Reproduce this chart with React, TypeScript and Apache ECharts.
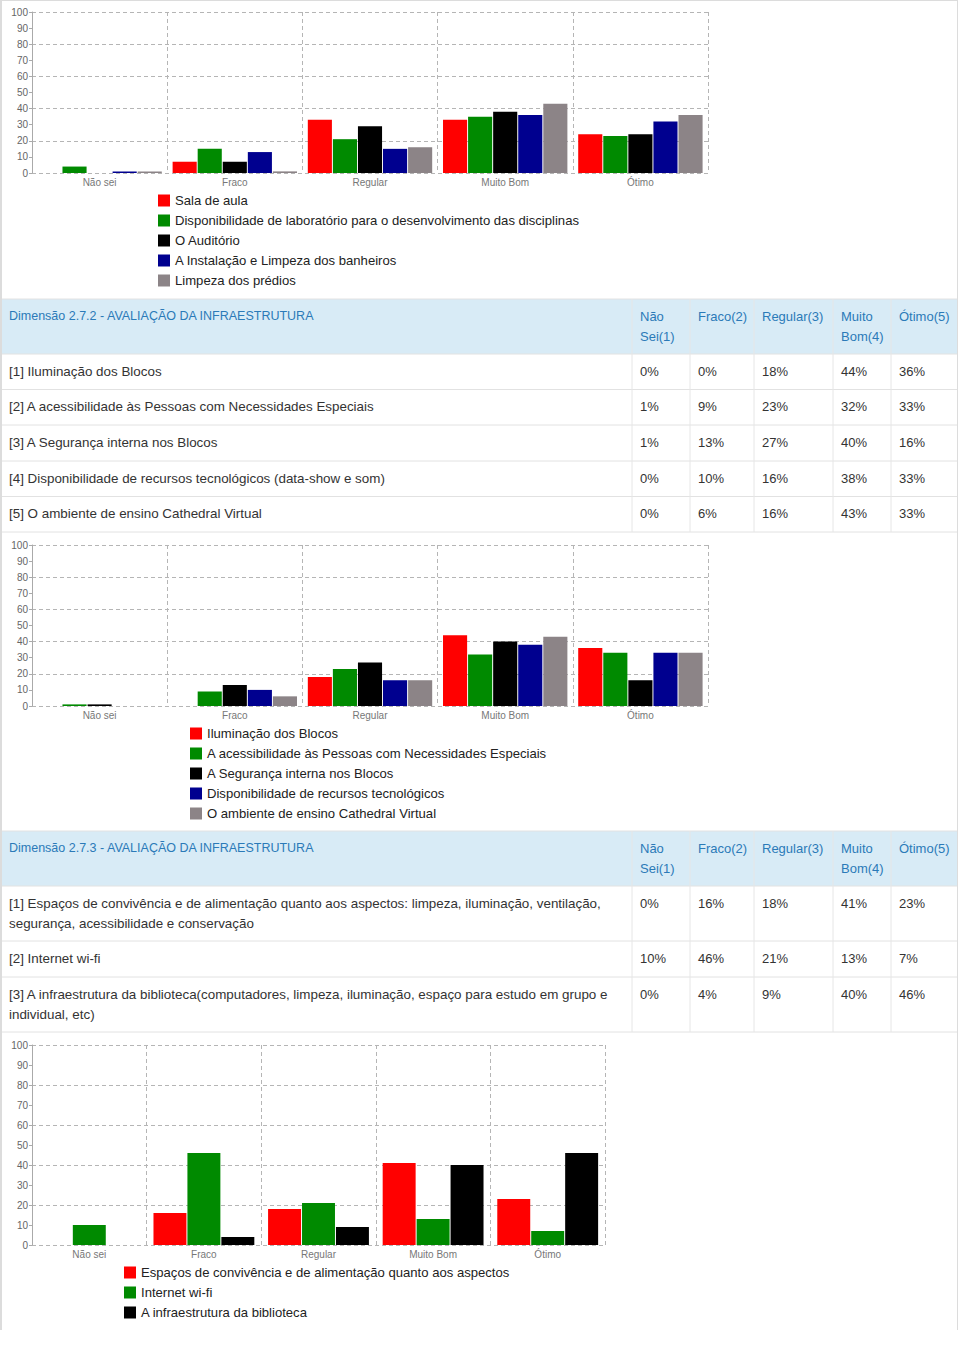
import React, { useEffect, useRef } from "react";
import * as echarts from "echarts";

const FONT = "'Liberation Sans', Arial, Helvetica, sans-serif";

// ---------- DATA ----------
const categories = ["Não sei", "Fraco", "Regular", "Muito Bom", "Ótimo"];

const chart1Names = [
  "Sala de aula",
  "Disponibilidade de laboratório para o desenvolvimento das disciplinas",
  "O Auditório",
  "A Instalação e Limpeza dos banheiros",
  "Limpeza dos prédios",
];
const chart1Values = [
  [0, 7, 33, 33, 24],
  [4, 15, 21, 35, 23],
  [0, 7, 29, 38, 24],
  [1, 13, 15, 36, 32],
  [1, 1, 16, 43, 36],
];

const chart2Names = [
  "Iluminação dos Blocos",
  "A acessibilidade às Pessoas com Necessidades Especiais",
  "A Segurança interna nos Blocos",
  "Disponibilidade de recursos tecnológicos",
  "O ambiente de ensino Cathedral Virtual",
];
const chart2Values = [
  [0, 0, 18, 44, 36],
  [1, 9, 23, 32, 33],
  [1, 13, 27, 40, 16],
  [0, 10, 16, 38, 33],
  [0, 6, 16, 43, 33],
];

const chart3Names = [
  "Espaços de convivência e de alimentação quanto aos aspectos",
  "Internet wi-fi",
  "A infraestrutura da biblioteca",
];
const chart3Values = [
  [0, 16, 18, 41, 23],
  [10, 46, 21, 13, 7],
  [0, 4, 9, 40, 46],
];

const tableHeaders = ["Não\nSei(1)", "Fraco(2)", "Regular(3)", "Muito\nBom(4)", "Ótimo(5)"];

const table1Title = "Dimensão 2.7.2 - AVALIAÇÃO DA INFRAESTRUTURA";
const table1Rows = [
  "[1] Iluminação dos Blocos",
  "[2] A acessibilidade às Pessoas com Necessidades Especiais",
  "[3] A Segurança interna nos Blocos",
  "[4] Disponibilidade de recursos tecnológicos (data-show e som)",
  "[5] O ambiente de ensino Cathedral Virtual",
];

const table2Title = "Dimensão 2.7.3 - AVALIAÇÃO DA INFRAESTRUTURA";
const table2Rows = [
  "[1] Espaços de convivência e de alimentação quanto aos aspectos: limpeza, iluminação, ventilação,\nsegurança, acessibilidade e conservação",
  "[2] Internet wi-fi",
  "[3] A infraestrutura da biblioteca(computadores, limpeza, iluminação, espaço para estudo em grupo e\nindividual, etc)",
];

const palette = ["#ff0000", "#008a00", "#000000", "#00008f", "#8c8487"];

// ---------- LAYOUT ----------
const charts = [
  { names: chart1Names, values: chart1Values, grid: { left: 32, top: 12, width: 676, height: 161 }, legend: { left: 158, top: 194 }, catGap: "8%", barGap: "4%" },
  { names: chart2Names, values: chart2Values, grid: { left: 32, top: 545, width: 676, height: 161 }, legend: { left: 190, top: 727 }, catGap: "8%", barGap: "4%" },
  { names: chart3Names, values: chart3Values, grid: { left: 32, top: 1045, width: 573, height: 200 }, legend: { left: 124, top: 1266 }, catGap: "12%", barGap: "3%" },
];

const colLines = [632, 690, 754, 833, 891];
const tables = [
  { title: table1Title, rows: table1Rows, values: chart2Values, bounds: [299, 354, 389.5, 425, 461, 496.5, 532] },
  { title: table2Title, rows: table2Rows, values: chart3Values, bounds: [831, 886, 941, 977, 1032] },
];

function buildTable(t: any) {
  const els: any[] = [];
  const top = t.bounds[0];
  const bottom = t.bounds[t.bounds.length - 1];
  const hdrBottom = t.bounds[1];
  els.push({ type: "rect", silent: true, shape: { x: 2, y: top, width: 955, height: hdrBottom - top }, style: { fill: "#d8ebf6" } });
  t.bounds.forEach((y: number) => {
    els.push({ type: "line", silent: true, shape: { x1: 2, y1: y, x2: 957, y2: y }, style: { stroke: "#e2e2e2", lineWidth: 1 } });
  });
  colLines.forEach((x) => {
    els.push({ type: "line", silent: true, shape: { x1: x, y1: top, x2: x, y2: bottom }, style: { stroke: "#e6e6e6", lineWidth: 1 } });
  });
  const txt = (s: string, x: number, y: number, fill: string, size: number) => {
    s.split("\n").forEach((line, i) => {
      els.push({ type: "text", silent: true, style: { text: line, x, y: y + i * 20, fill, fontFamily: FONT, fontSize: size, verticalAlign: "middle", align: "left" } });
    });
  };
  const blue = "#2b7ab8";
  txt(t.title, 9, top + 17, blue, 12.5);
  tableHeaders.forEach((h, j) => txt(h, colLines[j] + 8, top + 17, blue, 13));
  t.rows.forEach((r: string, i: number) => {
    const rt = t.bounds[i + 1];
    txt(r, 9, rt + 17, "#333", 13.4);
    for (let j = 0; j < 5; j++) {
      txt(t.values[i][j] + "%", colLines[j] + 8, rt + 17, "#333", 13);
    }
  });
  return els;
}

export default function App() {
  const ref = useRef<HTMLDivElement>(null);
  useEffect(() => {
    document.body.style.margin = "0";
    const chart = echarts.init(ref.current!, null, { renderer: "svg" });
    const grids: any[] = [];
    const xAxes: any[] = [];
    const yAxes: any[] = [];
    const legends: any[] = [];
    const series: any[] = [];
    charts.forEach((c, i) => {
      grids.push({ ...c.grid, containLabel: false });
      xAxes.push({
        type: "category",
        gridIndex: i,
        data: categories,
        boundaryGap: true,
        axisLine: { show: false },
        axisTick: { show: false },
        axisLabel: { color: "#777", fontSize: 10, margin: 4, fontFamily: FONT },
        splitLine: { show: true, lineStyle: { color: "#b5b5b5", type: [4, 3], width: 1 } },
      });
      yAxes.push({
        type: "value",
        gridIndex: i,
        position: "left",
        min: 0,
        max: 100,
        interval: 10,
        axisLine: { show: true, lineStyle: { color: "#aaa" } },
        axisTick: { show: true, length: 3, lineStyle: { color: "#aaa" } },
        axisLabel: { color: "#666", fontSize: 10, margin: 4, fontFamily: FONT },
        splitLine: { show: false },
      });
      yAxes.push({
        type: "value",
        gridIndex: i,
        position: "left",
        min: 0,
        max: 100,
        interval: 20,
        axisLine: { show: false },
        axisTick: { show: false },
        axisLabel: { show: false },
        splitLine: { show: true, lineStyle: { color: "#b5b5b5", type: [4, 3], width: 1 } },
      });
      legends.push({
        orient: "vertical",
        left: c.legend.left,
        top: c.legend.top,
        padding: 0,
        itemGap: 7,
        itemWidth: 12,
        itemHeight: 12,
        icon: "rect",
        data: c.names,
        textStyle: { color: "#222", fontSize: 13.1, fontFamily: FONT },
        selectedMode: false,
      });
      c.names.forEach((n, k) => {
        series.push({
          type: "bar",
          name: n,
          xAxisIndex: i,
          yAxisIndex: i * 2,
          data: c.values[k],
          barCategoryGap: c.catGap,
          barGap: c.barGap,
          itemStyle: { color: palette[k] },
          emphasis: { disabled: true },
        });
      });
    });
    const graphic: any[] = [
      { type: "line", silent: true, shape: { x1: 0, y1: 0.5, x2: 958, y2: 0.5 }, style: { stroke: "#dcdcdc", lineWidth: 1 } },
      { type: "line", silent: true, shape: { x1: 1, y1: 0, x2: 1, y2: 1330 }, style: { stroke: "#dcdcdc", lineWidth: 2 } },
      { type: "line", silent: true, shape: { x1: 957.5, y1: 0, x2: 957.5, y2: 1330 }, style: { stroke: "#dcdcdc", lineWidth: 1 } },
      ...buildTable(tables[0]),
      ...buildTable(tables[1]),
    ];
    chart.setOption({
      animation: false,
      backgroundColor: "#ffffff",
      grid: grids,
      xAxis: xAxes,
      yAxis: yAxes,
      legend: legends,
      series,
      graphic,
    });
    return () => chart.dispose();
  }, []);
  return <div ref={ref} style={{ width: 960, height: 1365 }} />;
}
